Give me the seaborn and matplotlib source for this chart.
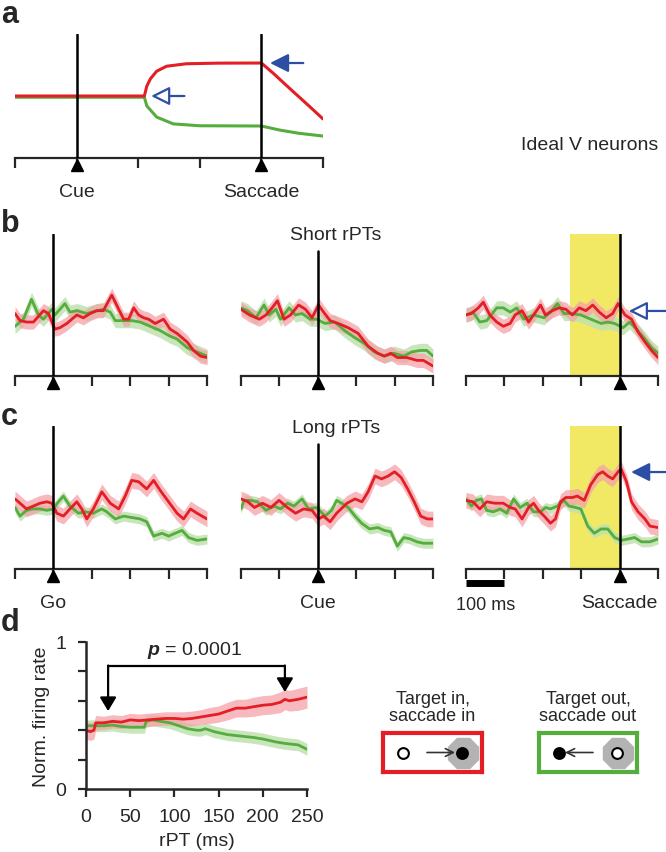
import matplotlib
matplotlib.use("Agg")
import matplotlib.pyplot as plt
import matplotlib.transforms as mtransforms
import numpy as np
import pandas as pd
import seaborn as sns

sns.set_style("white")
plt.rcParams['font.family'] = ['Liberation Sans', 'DejaVu Sans']
plt.rcParams['mathtext.fontset'] = 'custom'
plt.rcParams['mathtext.it'] = 'Liberation Sans:italic:bold'

RED = "#e31e25"
GREEN = "#55ad3e"
RED_BAND = "#f5a2a7"
GREEN_BAND = "#bfe1b0"
BLUE = "#2c4ea3"
YELLOW = "#f1e964"

# ---- panel a: ideal V neuron (time in ms from start of window)
ideal_t_red = [0, 210, 214, 220, 230, 246, 278, 330, 400, 420, 447, 475, 500]
ideal_v_red = [0.5, 0.5, 0.58, 0.64, 0.70, 0.74, 0.76, 0.765, 0.766, 0.68, 0.556, 0.43, 0.315]
ideal_t_green = [0, 210, 214, 230, 257, 300, 400, 430, 460, 500]
ideal_v_green = [0.49, 0.49, 0.42, 0.33, 0.275, 0.26, 0.258, 0.225, 0.20, 0.177]

# ---- panel b: short rPTs
short_go_t_green = [-100, -78, -57, -39, -26, -4, 4, 30, 43, 61, 87, 113, 130, 148, 161, 183, 204, 226, 252, 278, 304, 322, 348, 374, 400]
short_go_v_green = [0.35, 0.40, 0.54, 0.43, 0.40, 0.47, 0.43, 0.51, 0.45, 0.46, 0.44, 0.46, 0.47, 0.45, 0.39, 0.39, 0.39, 0.38, 0.35, 0.32, 0.28, 0.26, 0.20, 0.17, 0.14]
short_go_t_red = [-100, -87, -70, -52, -26, -13, 4, 17, 35, 61, 78, 96, 113, 130, 152, 170, 183, 196, 209, 222, 235, 248, 265, 287, 304, 322, 348, 365, 383, 400]
short_go_v_red = [0.44, 0.39, 0.38, 0.38, 0.46, 0.44, 0.33, 0.34, 0.37, 0.43, 0.41, 0.44, 0.46, 0.46, 0.57, 0.47, 0.40, 0.40, 0.48, 0.43, 0.41, 0.40, 0.37, 0.40, 0.33, 0.30, 0.24, 0.18, 0.14, 0.13]

short_cue_t_green = [-200, -183, -161, -140, -127, -109, -97, -75, -58, -41, -20, -3, 19, 44, 70, 96, 121, 147, 173, 198, 224, 245, 267, 284, 300]
short_cue_v_green = [0.48, 0.46, 0.41, 0.50, 0.43, 0.47, 0.40, 0.48, 0.43, 0.44, 0.40, 0.40, 0.37, 0.38, 0.32, 0.27, 0.23, 0.17, 0.14, 0.16, 0.14, 0.17, 0.18, 0.18, 0.14]
short_cue_t_red = [-200, -178, -152, -135, -122, -105, -88, -71, -50, -32, -15, 2, 15, 32, 53, 79, 105, 131, 156, 173, 190, 207, 232, 258, 275, 300]
short_cue_v_red = [0.47, 0.43, 0.40, 0.43, 0.47, 0.53, 0.40, 0.43, 0.50, 0.47, 0.41, 0.50, 0.45, 0.39, 0.37, 0.34, 0.30, 0.21, 0.16, 0.14, 0.16, 0.13, 0.13, 0.11, 0.11, 0.07]

short_sac_t_green = [-400, -382, -364, -346, -320, -303, -285, -268, -250, -224, -197, -180, -162, -145, -127, -101, -75, -48, -31, -13, 9, 26, 44, 66, 83, 100]
short_sac_v_green = [0.43, 0.45, 0.38, 0.39, 0.48, 0.48, 0.45, 0.48, 0.40, 0.43, 0.41, 0.45, 0.51, 0.44, 0.44, 0.43, 0.40, 0.37, 0.38, 0.37, 0.34, 0.38, 0.33, 0.26, 0.20, 0.16]
short_sac_t_red = [-400, -386, -368, -355, -338, -320, -303, -285, -272, -254, -237, -224, -206, -193, -175, -158, -140, -123, -105, -88, -70, -53, -35, -18, -4, 14, 31, 48, 66, 83, 100]
short_sac_v_red = [0.43, 0.44, 0.48, 0.52, 0.43, 0.38, 0.35, 0.37, 0.43, 0.46, 0.38, 0.43, 0.50, 0.43, 0.46, 0.48, 0.47, 0.43, 0.48, 0.46, 0.50, 0.45, 0.41, 0.44, 0.51, 0.43, 0.40, 0.31, 0.24, 0.18, 0.13]

# ---- panel c: long rPTs
long_go_t_red = [-100, -87, -70, -52, -35, -17, -4, 9, 26, 43, 61, 74, 87, 104, 126, 148, 170, 187, 204, 222, 243, 261, 278, 300, 322, 339, 357, 374, 400]
long_go_v_red = [0.49, 0.46, 0.42, 0.44, 0.46, 0.47, 0.46, 0.39, 0.37, 0.42, 0.47, 0.42, 0.35, 0.42, 0.54, 0.46, 0.42, 0.51, 0.62, 0.61, 0.56, 0.62, 0.55, 0.47, 0.39, 0.35, 0.42, 0.39, 0.35]
long_go_t_green = [-100, -87, -70, -52, -35, -17, 0, 13, 26, 43, 65, 83, 104, 126, 139, 161, 183, 204, 226, 243, 261, 283, 300, 317, 335, 352, 374, 400]
long_go_v_green = [0.43, 0.37, 0.41, 0.42, 0.42, 0.41, 0.42, 0.47, 0.51, 0.44, 0.39, 0.40, 0.39, 0.42, 0.40, 0.35, 0.37, 0.36, 0.35, 0.33, 0.23, 0.25, 0.23, 0.25, 0.27, 0.22, 0.20, 0.21]

long_cue_t_red = [-200, -182, -165, -144, -122, -101, -79, -58, -37, -15, 2, 15, 32, 49, 76, 97, 115, 131, 149, 166, 183, 200, 217, 234, 251, 268, 285, 300]
long_cue_v_red = [0.49, 0.47, 0.43, 0.46, 0.43, 0.48, 0.43, 0.39, 0.42, 0.41, 0.35, 0.37, 0.33, 0.39, 0.46, 0.49, 0.47, 0.54, 0.65, 0.63, 0.65, 0.68, 0.64, 0.56, 0.47, 0.37, 0.35, 0.35]
long_cue_t_green = [-200, -192, -174, -157, -135, -114, -97, -79, -62, -41, -24, -3, 19, 36, 49, 62, 79, 97, 114, 135, 156, 173, 190, 207, 224, 241, 258, 275, 300]
long_cue_v_green = [0.42, 0.48, 0.48, 0.47, 0.41, 0.44, 0.42, 0.46, 0.44, 0.49, 0.42, 0.43, 0.37, 0.41, 0.48, 0.46, 0.43, 0.37, 0.32, 0.28, 0.29, 0.27, 0.26, 0.16, 0.22, 0.21, 0.19, 0.18, 0.18]

long_sac_t_red = [-400, -382, -364, -346, -325, -303, -285, -272, -254, -237, -224, -211, -193, -180, -167, -154, -140, -123, -110, -92, -75, -57, -44, -31, -18, -4, 4, 18, 31, 48, 66, 79, 100]
long_sac_v_red = [0.48, 0.47, 0.42, 0.47, 0.46, 0.46, 0.43, 0.42, 0.35, 0.43, 0.46, 0.41, 0.36, 0.32, 0.35, 0.47, 0.50, 0.50, 0.51, 0.48, 0.59, 0.66, 0.68, 0.65, 0.63, 0.68, 0.70, 0.61, 0.47, 0.40, 0.35, 0.30, 0.29]
long_sac_t_green = [-400, -386, -373, -360, -346, -329, -311, -294, -276, -259, -241, -224, -206, -193, -180, -162, -145, -132, -114, -101, -83, -66, -48, -31, -13, 4, 22, 39, 57, 79, 100]
long_sac_v_green = [0.49, 0.44, 0.48, 0.49, 0.41, 0.40, 0.42, 0.39, 0.49, 0.43, 0.46, 0.40, 0.40, 0.43, 0.42, 0.44, 0.48, 0.44, 0.43, 0.42, 0.30, 0.25, 0.28, 0.28, 0.22, 0.20, 0.21, 0.22, 0.19, 0.19, 0.21]

band_short = 0.05
band_long_red = 0.055
band_long_green = 0.035
window_yellow = [-130, 0]

# ---- panel d: firing rate vs rPT
rpt_red = [0, 5, 9, 11, 20, 30, 40, 50, 60, 70, 80, 90, 100, 110, 120, 130, 140, 150, 160, 170, 180, 190, 200, 210, 220, 225, 230, 240, 250]
rate_red = [0.40, 0.39, 0.40, 0.45, 0.45, 0.46, 0.455, 0.47, 0.465, 0.47, 0.475, 0.48, 0.48, 0.475, 0.48, 0.49, 0.50, 0.51, 0.53, 0.55, 0.55, 0.56, 0.57, 0.575, 0.59, 0.61, 0.60, 0.61, 0.625]
sem_red = [0.06, 0.06, 0.06, 0.05, 0.045, 0.045, 0.045, 0.045, 0.045, 0.045, 0.045, 0.045, 0.045, 0.05, 0.05, 0.05, 0.055, 0.055, 0.06, 0.06, 0.06, 0.065, 0.065, 0.065, 0.07, 0.07, 0.07, 0.075, 0.075]
rpt_green = [0, 10, 20, 30, 40, 50, 60, 66, 68, 75, 85, 95, 105, 115, 125, 130, 135, 145, 160, 175, 190, 200, 215, 225, 240, 250]
rate_green = [0.43, 0.43, 0.43, 0.435, 0.425, 0.42, 0.42, 0.42, 0.46, 0.47, 0.46, 0.45, 0.43, 0.41, 0.40, 0.40, 0.41, 0.39, 0.37, 0.36, 0.35, 0.34, 0.32, 0.31, 0.30, 0.27]
sem_green = 0.04

W, H = 666, 853
fig = plt.figure(figsize=(W / 100, H / 100), dpi=100)


def box(x0, y0, x1, y1):
    return fig.add_axes([x0 / W, 1 - y1 / H, (x1 - x0) / W, (y1 - y0) / H])


def triangle(ax, x):
    tri = mtransforms.offset_copy(ax.transData, fig=fig, x=0, y=-7, units='dots')
    ax.plot([x], [0], marker='^', ms=9, color='black', transform=tri, clip_on=False, zorder=5)


def event_axis(ax, xlim, event, labels=None, line_top=1.0):
    ax.set_xlim(*xlim)
    ax.set_ylim(0, 1)
    sns.despine(ax=ax, left=True)
    ax.spines['bottom'].set_linewidth(1.6)
    ticks = np.arange(xlim[0], xlim[1] + 1, 100)
    ax.set_xticks(ticks)
    if labels is None:
        labels = [''] * len(ticks)
    ax.set_xticklabels(labels, fontsize=14)
    ax.tick_params(axis='x', direction='out', length=7, width=1.6, pad=11, bottom=True)
    ax.set_yticks([])
    ax.axvline(event, ymin=0, ymax=line_top, color='black', lw=1.8, zorder=4)
    triangle(ax, event)
    ax.patch.set_alpha(0)
    ax.set_xlabel('')
    ax.set_ylabel('')


def traces(ax, tg, vg, tr, vr, eg, er):
    ax.fill_between(tg, np.array(vg) - eg, np.array(vg) + eg, color=GREEN_BAND, lw=0, alpha=0.85)
    ax.fill_between(tr, np.array(vr) - er, np.array(vr) + er, color=RED_BAND, lw=0, alpha=0.75)
    sns.lineplot(x=tg, y=vg, ax=ax, color=GREEN, lw=2.0, errorbar=None)
    sns.lineplot(x=tr, y=vr, ax=ax, color=RED, lw=2.0, errorbar=None)


def blue_arrow(ax, xy, xytext, filled, textcoords='data'):
    ax.annotate('', xy=xy, xytext=xytext, textcoords=textcoords,
                arrowprops=dict(arrowstyle='-|>,head_length=0.7,head_width=0.35', color=BLUE,
                                fc=BLUE if filled else 'white', lw=1.6, mutation_scale=16,
                                shrinkA=0, shrinkB=0),
                annotation_clip=False)


# ---------- panel a
ax = box(15, 35, 323, 159)
sns.lineplot(x=ideal_t_green, y=ideal_v_green, ax=ax, color=GREEN, lw=2.2, errorbar=None)
sns.lineplot(x=ideal_t_red, y=ideal_v_red, ax=ax, color=RED, lw=2.2, errorbar=None)
event_axis(ax, (0, 500), 100, ['', 'Cue', '', '', 'Saccade', ''])
ax.axvline(400, color='black', lw=1.8, zorder=4)
triangle(ax, 400)
blue_arrow(ax, (221, 0.5), (275, 0.5), False)
blue_arrow(ax, (414, 0.766), (468, 0.766), True)
fig.text(590 / W, 1 - 146 / H, 'Ideal V neurons', ha='center', va='center', fontsize=14)

# ---------- panels b and c
cols = [(15, 207, (-100, 400), ['', 'Go', '', '', '', '']),
        (241, 433, (-200, 300), ['', '', 'Cue', '', '', '']),
        (466, 658, (-400, 100), ['', '', '', '', 'Saccade', ''])]
short_data = [(short_go_t_green, short_go_v_green, short_go_t_red, short_go_v_red),
              (short_cue_t_green, short_cue_v_green, short_cue_t_red, short_cue_v_red),
              (short_sac_t_green, short_sac_v_green, short_sac_t_red, short_sac_v_red)]
long_data = [(long_go_t_green, long_go_v_green, long_go_t_red, long_go_v_red),
             (long_cue_t_green, long_cue_v_green, long_cue_t_red, long_cue_v_red),
             (long_sac_t_green, long_sac_v_green, long_sac_t_red, long_sac_v_red)]
rows = [(235, 377, 252, short_data, False), (427, 570, 445, long_data, True)]

for top, base, mid_top, data, is_long in rows:
    for i, (x0, x1, xlim, labs) in enumerate(cols):
        ax = box(x0, top, x1, base)
        if i == 2:
            ax.axvspan(window_yellow[0], window_yellow[1], color=YELLOW, lw=0, zorder=0)
        tg, vg, tr, vr = data[i]
        if is_long:
            traces(ax, tg, vg, tr, vr, band_long_green, band_long_red)
        else:
            traces(ax, tg, vg, tr, vr, band_short, band_short)
        line_top = (base - mid_top) / (base - top) if i == 1 else 1.0
        event_axis(ax, xlim, 0, labs if is_long else None, line_top)
        if i == 2:
            if is_long:
                blue_arrow(ax, (30, 0.678), (1.05, 0.678), True, ('axes fraction', 'data'))
                ax.plot([-400, -300], [-0.098, -0.098], color='black', lw=5, solid_capstyle='butt', clip_on=False)
                ax.text(-350, -0.245, '100 ms', ha='center', va='center', fontsize=13)
            else:
                blue_arrow(ax, (24, 0.458), (1.05, 0.458), False, ('axes fraction', 'data'))

fig.text(336 / W, 1 - 236 / H, 'Short rPTs', ha='center', va='center', fontsize=14)
fig.text(336 / W, 1 - 429 / H, 'Long rPTs', ha='center', va='center', fontsize=14)

# ---------- panel d
ax = box(86, 643, 307, 790)
dr = pd.DataFrame({'rpt': rpt_red, 'rate': rate_red})
dg = pd.DataFrame({'rpt': rpt_green, 'rate': rate_green})
ax.fill_between(rpt_green, np.array(rate_green) - sem_green, np.array(rate_green) + sem_green,
                color=GREEN_BAND, lw=0, alpha=0.85)
ax.fill_between(rpt_red, np.array(rate_red) - np.array(sem_red), np.array(rate_red) + np.array(sem_red),
                color=RED_BAND, lw=0, alpha=0.75)
sns.lineplot(data=dg, x='rpt', y='rate', ax=ax, color=GREEN, lw=2.0)
sns.lineplot(data=dr, x='rpt', y='rate', ax=ax, color=RED, lw=2.0)
ax.set_xlim(0, 250)
ax.set_ylim(0, 1)
sns.despine(ax=ax)
for s in ['left', 'bottom']:
    ax.spines[s].set_linewidth(1.8)
ax.set_xticks([0, 50, 100, 150, 200, 250])
ax.set_yticks([0, 0.2, 0.4, 0.6, 0.8, 1.0])
ax.set_yticklabels(['0', '', '', '', '', '1'])
ax.tick_params(direction='out', length=6, width=1.6, labelsize=14, left=True, bottom=True, pad=8)
ax.set_xlabel('rPT (ms)', fontsize=14, labelpad=5)
ax.set_ylabel('Norm. firing rate', fontsize=14, labelpad=4)
ax.plot([25, 225], [0.84, 0.84], color='black', lw=1.6)
for xa, ya in [(25, 0.53), (225, 0.66)]:
    ax.annotate('', xy=(xa, ya), xytext=(xa, 0.84),
                arrowprops=dict(arrowstyle='-|>,head_length=0.75,head_width=0.45', color='black',
                                lw=1.6, mutation_scale=11, shrinkA=0, shrinkB=0))
ax.text(123, 0.95, r'$p$ = 0.0001', ha='center', va='center', fontsize=14)

# ---------- legend boxes
for x0, x1, col, txt, filled_left in [(383, 482, RED, 'Target in,\nsaccade in', False),
                                        (539, 637, GREEN, 'Target out,\nsaccade out', True)]:
    lax = box(x0, 734, x1, 773)
    lax.set_xlim(0, x1 - x0)
    lax.set_ylim(0, 39)
    lax.set_xticks([])
    lax.set_yticks([])
    for s in lax.spines.values():
        s.set_color(col)
        s.set_linewidth(3)
    xl, xr = 20, (x1 - x0) - 20
    lax.scatter([xr + 1], [19.5], marker='8', s=600, color='#b3b3b3', lw=0, zorder=1)
    lax.scatter([xl], [19.5], s=60, facecolor='black' if filled_left else 'white', edgecolor='black', lw=1.5, zorder=3)
    lax.scatter([xr], [19.5], s=60, facecolor='white' if filled_left else 'black', edgecolor='black', lw=1.5, zorder=3)
    if filled_left:
        lax.annotate('', xy=(xl + 6, 19.5), xytext=(xl + 34, 19.5),
                     arrowprops=dict(arrowstyle='->', color='#333333', lw=1.2, mutation_scale=14, shrinkA=0, shrinkB=0))
    else:
        lax.annotate('', xy=(xr - 7, 19.5), xytext=(xl + 24, 19.5),
                     arrowprops=dict(arrowstyle='->', color='#333333', lw=1.2, mutation_scale=14, shrinkA=0, shrinkB=0))
    fig.text((x0 + x1) / 2 / W, 1 - 708 / H, txt, ha='center', va='center', fontsize=13, linespacing=1.05)

# panel letters (baseline positions)
for lab, (x, y) in {'a': (1, 23), 'b': (1, 232), 'c': (1, 425), 'd': (1, 631)}.items():
    fig.text(x / W, 1 - y / H, lab, fontsize=22, fontweight='bold', ha='left', va='baseline')

fig.savefig('out.png', dpi=100)
